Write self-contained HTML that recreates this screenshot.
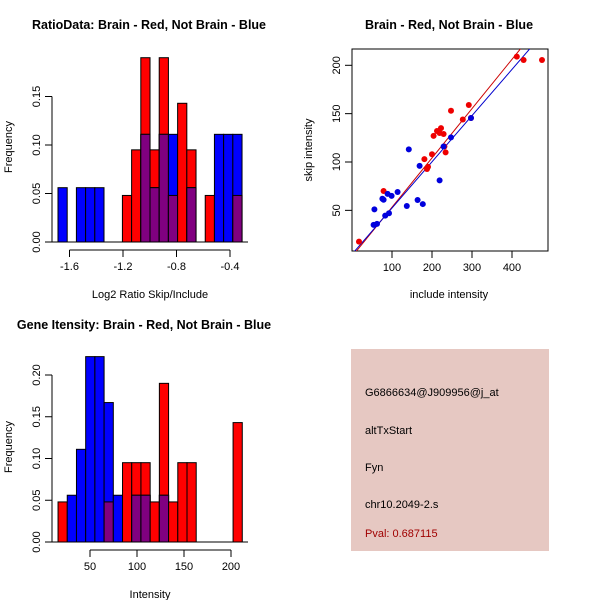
<!DOCTYPE html>
<html><head><meta charset="utf-8"><style>
body{margin:0;background:#fff}
svg{display:block;font-family:"Liberation Sans",Arial,sans-serif}
</style></head><body>
<svg id="c" width="600" height="600" xmlns="http://www.w3.org/2000/svg">
<text x="149" y="29" font-size="12.5" font-weight="bold" text-anchor="middle">RatioData: Brain - Red, Not Brain - Blue</text>
<text x="449" y="29" font-size="12.5" font-weight="bold" text-anchor="middle">Brain - Red, Not Brain - Blue</text>
<text x="144" y="329" font-size="12.5" font-weight="bold" text-anchor="middle">Gene Itensity: Brain - Red, Not Brain - Blue</text>
<text x="150" y="298" font-size="11" text-anchor="middle">Log2 Ratio Skip/Include</text>
<text x="449" y="298" font-size="11" text-anchor="middle">include intensity</text>
<text x="150" y="598" font-size="11" text-anchor="middle">Intensity</text>
<text transform="translate(12,147) rotate(-90)" font-size="11" text-anchor="middle">Frequency</text>
<text transform="translate(312,150) rotate(-90)" font-size="11" text-anchor="middle">skip intensity</text>
<text transform="translate(12,447) rotate(-90)" font-size="11" text-anchor="middle">Frequency</text>
<g>
<rect x="351" y="349" width="198" height="202" fill="#e6c8c2"/>
<text x="365" y="396" font-size="11">G6866634@J909956@j_at</text>
<text x="365" y="434" font-size="11">altTxStart</text>
<text x="365" y="471" font-size="11">Fyn</text>
<text x="365" y="508" font-size="11">chr10.2049-2.s</text>
<text x="365" y="537" font-size="11" fill="#a00000">Pval: 0.687115</text>
</g>
</svg>
<script>
const NS="http://www.w3.org/2000/svg";
const svg=document.getElementById('c');
function mk(tag,attrs,parent){const e=document.createElementNS(NS,tag);for(const k in attrs)e.setAttribute(k,attrs[k]);(parent||svg).appendChild(e);return e;}

// ---- Ratio histogram data ----
const ratioBinStart=-1.686, ratioBinWidth=0.0688;
const ratioRed=[0,0,0,0,0,0,0,0.048,0.095,0.19,0.095,0.19,0.048,0.143,0.095,0,0.048,0,0,0.048];
const ratioBlue=[0.056,0,0.056,0.056,0.056,0,0,0,0,0.111,0.056,0.111,0.111,0,0.056,0,0,0.111,0.111,0.111];
const ratioXTicks=[-1.6,-1.2,-0.8,-0.4];
const ratioYTicks=[0,0.05,0.10,0.15];

// ---- Intensity histogram data ----
const intBinStart=16, intBinWidth=9.8;
const intRed=[0.048,0,0,0,0,0.048,0,0.095,0.095,0.095,0.048,0.19,0.048,0.095,0.095,0,0,0,0,0.143];
const intBlue=[0,0.056,0.111,0.222,0.222,0.167,0.056,0,0.056,0.056,0,0.056,0,0,0,0,0,0,0,0];
const intXTicks=[50,100,150,200];
const intYTicks=[0,0.05,0.10,0.15,0.20];

// ---- Scatter data ----
const redX=[17.5,79,181,187.5,200,204,212.5,219,222.5,229,231,234,247.5,277,292,297.5,412,429,475,190];
const redY=[17.6,70,103,92.8,108,127,132,130,135,129,116,110,153,144,159,145.5,209,205.5,205.5,95];
const blueX=[56,54,62.5,76,79,89,83,92.5,99,114,137,142,169,164,177,219,229,247.5,297.5];
const blueY=[51,35,36,62,61,67,44.5,47,65,69,54.5,113,96,60.7,56.5,81,116,125.5,145.5];
const redFit=[2.2,0.51];
const blueFit=[4.6,0.478];
const scXTicks=[100,200,300,400];
const scYTicks=[50,100,150,200];

function hist(name,start,width,red,blue,xs,ys,xt,yt,axisY,fmtY){
  const g=mk('g',{});
  
  
  for(let i=0;i<red.length;i++){
    const x0=xs(start+i*width),x1=xs(start+(i+1)*width);
    const layers=[[red[i],'#ff0000','red'],[blue[i],'#0000ff','blue'],[Math.min(red[i],blue[i]),'#800080','overlap']];
    layers.forEach(([v,c,n])=>{
      if(v<=0)return;
      const r=mk('rect',{x:x0,y:ys(v),width:x1-x0,height:ys(0)-ys(v),fill:c,stroke:'#000','stroke-width':1},g);
      
      
    });
  }
  // y axis
  const y0=ys(yt[0]),y1=ys(yt[yt.length-1]);
  mk('line',{x1:52,x2:52,y1:y0,y2:y1,stroke:'#000'},g);
  yt.forEach(t=>{
    mk('line',{x1:45,x2:52,y1:ys(t),y2:ys(t),stroke:'#000'},g);
    const tx=mk('text',{transform:`translate(40,${ys(t)}) rotate(-90)`,'font-size':11,'text-anchor':'middle'},g);
    tx.textContent=fmtY(t);
    
    
  });
  // baseline
  mk('line',{x1:52,x2:248,y1:ys(0),y2:ys(0),stroke:'#000'},g);
  // x axis
  mk('line',{x1:xs(xt[0]),x2:xs(xt[xt.length-1]),y1:axisY,y2:axisY,stroke:'#000'},g);
  xt.forEach(t=>{
    mk('line',{x1:xs(t),x2:xs(t),y1:axisY,y2:axisY+7,stroke:'#000'},g);
    const tx=mk('text',{x:xs(t),y:axisY+20,'font-size':11,'text-anchor':'middle'},g);
    tx.textContent=String(t);
    
    
  });
}
hist('ratio-histogram',ratioBinStart,ratioBinWidth,ratioRed,ratioBlue,
  v=>123+(v+1.2)*133.75, v=>242-v*970, ratioXTicks, ratioYTicks, 250, t=>t.toFixed(2));
hist('intensity-histogram',intBinStart,intBinWidth,intRed,intBlue,
  v=>90+(v-50)*0.94, v=>542-v*835, intXTicks, intYTicks, 550, t=>t.toFixed(2));

// scatter
const sx=v=>392+(v-100)*0.4, sy=v=>162-(v-100)*0.967;
const sg=mk('g',{});


mk('rect',{x:352,y:49,width:196,height:202,fill:'none',stroke:'#000'},sg);
scXTicks.forEach(t=>{
  mk('line',{x1:sx(t),x2:sx(t),y1:251,y2:258,stroke:'#000'},sg);
  const tx=mk('text',{x:sx(t),y:271,'font-size':11,'text-anchor':'middle'},sg);
  tx.textContent=String(t);
  
  
});
scYTicks.forEach(t=>{
  mk('line',{x1:345,x2:352,y1:sy(t),y2:sy(t),stroke:'#000'},sg);
  const tx=mk('text',{transform:`translate(340,${sy(t)}) rotate(-90)`,'font-size':11,'text-anchor':'middle'},sg);
  tx.textContent=String(t);
  
  
});
const clip=mk('clipPath',{id:'scclip'},sg);
mk('rect',{x:352,y:49,width:196,height:202},clip);
function fitLine(f,c,n){
  const xa=0,xb=500;
  const l=mk('line',{x1:sx(xa),y1:sy(f[0]+f[1]*xa),x2:sx(xb),y2:sy(f[0]+f[1]*xb),stroke:c,'stroke-width':1,'clip-path':'url(#scclip)'},sg);
  
  
}
fitLine(redFit,'#cc0000','red-fit-line');
fitLine(blueFit,'#0000cc','blue-fit-line');
redX.forEach((x,i)=>{
  const p=mk('circle',{cx:sx(x),cy:sy(redY[i]),r:3,fill:'#ee0000'},sg);
  
  
});
blueX.forEach((x,i)=>{
  const p=mk('circle',{cx:sx(x),cy:sy(blueY[i]),r:3,fill:'#0000dd'},sg);
  
  
});
</script>
</body></html>
